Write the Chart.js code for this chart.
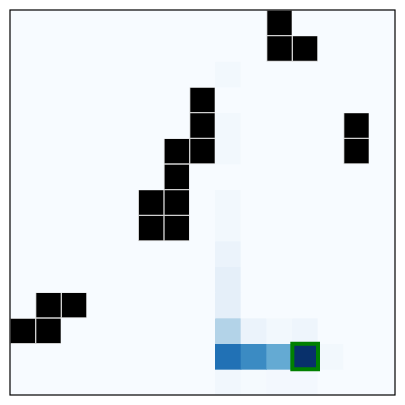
<!DOCTYPE html>
<html>
<head>
<meta charset="utf-8">
<script src="https://cdn.jsdelivr.net/npm/chart.js@4/dist/chart.umd.min.js"></script>
<style>html,body{margin:0;padding:0;background:#fff;}canvas{display:block;}</style>
</head>
<body>
<canvas id="c" width="405" height="405"></canvas>
<script>
// Grid size (15 x 15)
const gridCols = ['0','1','2','3','4','5','6','7','8','9','10','11','12','13','14'];
const gridRows = [0,1,2,3,4,5,6,7,8,9,10,11,12,13,14];
// Wall cells [row, col]
const walls = [[0,10],[1,10],[1,11],[3,7],[4,7],[4,13],[5,6],[5,7],[5,13],[6,6],
  [7,5],[7,6],[8,5],[8,6],[11,1],[11,2],[12,0],[12,1]];
// Value cells [row, col, value] (0..1)
const valueCells = [[2,8,0.025],[4,8,0.025],[5,8,0.025],[7,8,0.025],[8,8,0.025],[9,8,0.06],
  [10,8,0.09],[11,8,0.09],[12,8,0.31],[12,9,0.06],[12,10,0.025],[12,11,0.045],
  [13,8,0.75],[13,9,0.65],[13,10,0.52],[13,11,1.0],[13,12,0.025],
  [14,8,0.03],[14,9,0.01],[14,10,0.02],[14,11,0.02]];
// Highlighted cell [row, col]
const highlight = [13, 11];

const blues = ['#f7fbff','#deebf7','#c6dbef','#9ecae1','#6baed6','#4292c6','#2171b5','#08519c','#08306b'];
function hex(h){return [1,3,5].map(i=>parseInt(h.substr(i,2),16));}
function cmap(v){
  v=Math.max(0,Math.min(1,v));const t=v*8;const i=Math.min(7,Math.floor(t));const f=t-i;
  const a=hex(blues[i]),b=hex(blues[i+1]);
  return 'rgb('+a.map((x,k)=>Math.round(x+(b[k]-x)*f)).join(',')+')';
}
const grid = gridRows.map(()=>gridCols.map(()=>0));
valueCells.forEach(([r,c,v])=>{grid[r][c]=v;});
const isWall = gridRows.map(()=>gridCols.map(()=>false));
walls.forEach(([r,c])=>{isWall[r][c]=true;});

const datasets = gridRows.map(r=>({
  type:'bar',
  data: gridCols.map(()=>[r, r+1]),
  backgroundColor: gridCols.map((c,ci)=>isWall[r][ci]?'#000000':cmap(grid[r][ci])),
  borderColor: gridCols.map((c,ci)=>isWall[r][ci]?'#cfcfcf':'rgba(0,0,0,0)'),
  borderWidth: gridCols.map((c,ci)=>isWall[r][ci]?1:0),
  borderSkipped:false,
  barPercentage:1, categoryPercentage:1, grouped:false, order:1
}));
const [hr,hc]=highlight;
datasets.push({
  type:'line', xAxisID:'x2', yAxisID:'y',
  data:[{x:hc,y:hr},{x:hc+1,y:hr},{x:hc+1,y:hr+1},{x:hc,y:hr+1},{x:hc,y:hr}],
  borderColor:'#008000', borderWidth:4, pointRadius:0, fill:false,
  borderJoinStyle:'miter', borderCapStyle:'square', tension:0, order:-1
});

const framePlugin = {
  id:'frame',
  beforeDatasetsDraw(chart){
    const a=chart.chartArea,ctx=chart.ctx;ctx.save();ctx.fillStyle='#f7fbff';
    ctx.fillRect(a.left,a.top,a.right-a.left,a.bottom-a.top);ctx.restore();
  },
  afterDraw(chart){
    const a=chart.chartArea,ctx=chart.ctx;ctx.save();ctx.strokeStyle='#000';ctx.lineWidth=1.2;
    ctx.strokeRect(a.left,a.top,a.right-a.left,a.bottom-a.top);ctx.restore();
  }
};

new Chart(document.getElementById('c'),{
  data:{labels:gridCols, datasets},
  options:{
    responsive:false, animation:false,
    layout:{padding:{left:10,top:10,right:10,bottom:10}},
    plugins:{legend:{display:false},tooltip:{enabled:false}},
    scales:{
      x:{type:'category', display:false, offset:true, grid:{display:false}},
      x2:{type:'linear', display:false, min:0, max:15},
      y:{type:'linear', display:false, min:0, max:15, reverse:true}
    }
  },
  plugins:[framePlugin]
});
</script>
</body>
</html>
